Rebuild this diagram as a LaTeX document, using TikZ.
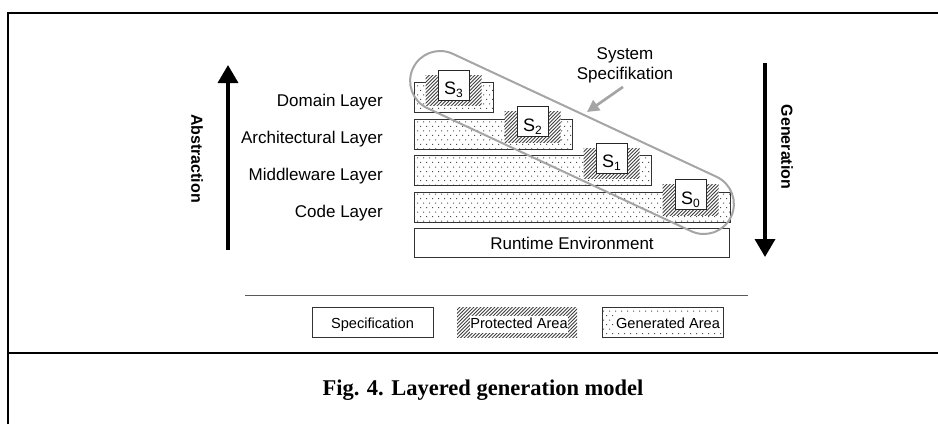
\documentclass[tikz,border=0pt]{standalone}
\usepackage{fontspec}
\setmainfont{Liberation Sans}
\newfontfamily\captionfont{Liberation Serif}
\usepackage{tikz}
\usetikzlibrary{arrows.meta,patterns}
\definecolor{ringgray}{RGB}{165,165,165}
\definecolor{rulegray}{RGB}{90,90,90}
\newcommand{\specname}[1]{S\raisebox{-3pt}{\fontsize{12}{12}\selectfont #1}}

% sparse dots for the generated parts
\pgfdeclarepatternformonly{gendots}{\pgfqpoint{-1pt}{-1pt}}{\pgfqpoint{7pt}{10pt}}{\pgfqpoint{6pt}{9pt}}{%
	\pgfpathrectangle{\pgfqpoint{0pt}{0pt}}{\pgfqpoint{1pt}{1pt}}%
	\pgfpathrectangle{\pgfqpoint{3pt}{4.5pt}}{\pgfqpoint{1pt}{1pt}}%
	\pgfusepath{fill}}
% hatch for the protected parts
\pgfdeclarepatternformonly{prothatch}{\pgfqpoint{-1pt}{-1pt}}{\pgfqpoint{4.5pt}{4.5pt}}{\pgfqpoint{3.5pt}{3.5pt}}{%
	\pgfsetlinewidth{0.8pt}%
	\pgfpathmoveto{\pgfqpoint{0pt}{0pt}}%
	\pgfpathlineto{\pgfqpoint{3.6pt}{3.6pt}}%
	\pgfusepath{stroke}}

\begin{document}
\begin{tikzpicture}[x=1pt, y=-1pt,
	framerule/.style={line width=2.2pt},
	genbar/.style={draw=black!80, line width=1pt, pattern=gendots, pattern color=black!70, minimum height=30, inner sep=0, anchor=north west},
	protarea/.style={preaction={fill=white}, pattern=prothatch, pattern color=black!75},
	specbox/.style={draw=black!85, fill=white, line width=1pt, minimum width=31, minimum height=30, inner sep=0, text height=19pt, text depth=0pt, font=\fontsize{18}{18}\selectfont},
	plainbox/.style={draw=black!80, line width=1pt, fill=white, inner sep=0, font=\fontsize{17}{20}\selectfont},
	layerlabel/.style={anchor=base east, inner sep=0, font=\fontsize{17}{20}\selectfont},
	axislabel/.style={rotate=-90, inner sep=0, font=\fontsize{16}{18}\selectfont\bfseries},
	bigarrow/.style={line width=3.5pt, -{Triangle[width=20pt,length=18pt]}},
	ringline/.style={draw=ringgray, line width=2pt},
	legendtext/.style={anchor=base, inner sep=0, font=\fontsize{14.6}{16}\selectfont}
	]
	\useasboundingbox (0,0) rectangle (938,424);
	% frame and caption rule
	\draw[framerule] (8,424) -- (8,13) -- (938,13);
	\draw[framerule] (8,353) -- (938,353);

	% the four layers with their specifications
	\foreach \lvl/\layername in {3/Domain Layer, 2/Architectural Layer, 1/Middleware Layer, 0/Code Layer}
	{
		\pgfmathsetmacro{\bartop}{82+36.5*(3-\lvl)}
		\pgfmathsetmacro{\barlen}{79*(4-\lvl)}
		\node[genbar, minimum width=\barlen] (bar\lvl) at (414,\bartop) {};
		\node[layerlabel] (lbl\lvl) at (383,{106+37.2*(3-\lvl)}) {\layername};
		\path[protarea] ({414+\barlen-39.5-15.5-12.5},{\bartop-7}) rectangle ++(56,30.5);
		\node[specbox] (s\lvl) at ({414+\barlen-39.5},{\bartop+3}) {\specname{\lvl}};
	}
	\node[plainbox, minimum width=315, minimum height=29, anchor=north west] (runtime) at (414,228) {Runtime Environment};

	% system specification ring
	\node[ringline, rounded corners=30pt, minimum width=351, minimum height=60, inner sep=0, rotate=-25] (specring) at (572,142.5) {};
	\node[align=center, inner sep=2pt, font=\fontsize{17}{20}\selectfont] (spectext) at (625,65) {System\\Specifikation};
	\coordinate (ringhit) at (587,112);
	\draw[ringline, line width=2.7pt, -{Triangle[width=12pt,length=12pt]}] ([xshift=-2pt,yshift=-2pt]spectext.south) -- (ringhit);

	% direction arrows
	\coordinate (absfoot) at (228,250);
	\coordinate (abshead) at (228,65);
	\draw[bigarrow] (absfoot) -- (abshead);
	\node[axislabel] (abstxt) at (197,158.5) {Abstraction};
	\coordinate (genhead) at (765,63);
	\coordinate (genfoot) at (765,257);
	\draw[bigarrow] (genhead) -- (genfoot);
	\node[axislabel] (gentxt) at (787,147) {Generation};

	% legend
	\draw[rulegray, line width=1pt] (245,295) -- (748,295);
	\node[plainbox, minimum width=121, minimum height=30] (legspec) at (372.5,322) {};
	\node[legendtext] (legspectxt) at (372.5,328.5) {Specification};
	\path[protarea] (457,307) rectangle (577,337);
	\node[legendtext, fill=white, text height=13pt, text depth=4pt] (legprot) at (519,328.5) {Protected Area};
	\node[genbar, anchor=center, minimum width=121, minimum height=30] (leggen) at (662.5,322) {};
	\node[legendtext, fill=white, inner xsep=2pt, text height=17pt, text depth=4.5pt] (leggentxt) at (668,328.5) {Generated Area};

	\node[font=\captionfont\fontsize{22.5}{26}\selectfont\bfseries, anchor=base] (caption) at (483,395) {Fig. 4. Layered generation model};
\end{tikzpicture}
\end{document}
